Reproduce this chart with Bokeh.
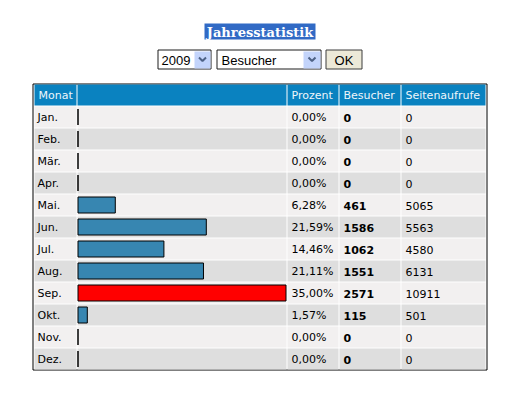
from bokeh.plotting import figure
from bokeh.models import Range1d, ColumnDataSource
from bokeh.embed import file_html
from bokeh.resources import INLINE
from bokeh.core.properties import value

# ---------------- data ----------------
months = ["Jan.", "Feb.", "Mär.", "Apr.", "Mai.", "Jun.", "Jul.", "Aug.", "Sep.", "Okt.", "Nov.", "Dez."]
visitors = [0, 0, 0, 0, 461, 1586, 1062, 1551, 2571, 115, 0, 0]
pageviews = [0, 0, 0, 0, 5065, 5563, 4580, 6131, 10911, 501, 0, 0]
headers = ["Monat", "", "Prozent", "Besucher", "Seitenaufrufe"]
title_text = "Jahresstatistik"
year_label = "2009"
metric_label = "Besucher"
button_label = "OK"

total = sum(visitors)
percents = [("%.2f" % (v / total * 100)).replace(".", ",") + "%" for v in visitors]
vmax = max(visitors)

# ---------------- layout (pixels) ----------------
W, H = 502, 379
X0 = 0  # data x of the figure's left edge
Y0 = 0  # data y of the figure's top edge
col_edges = [(34, 76), (77, 286), (287, 338), (339, 400), (401, 485)]
head_top, head_bot = 84, 105
row0, pitch, rowh = 106, 22, 21
bar_x0, bar_x1 = 77.5, 285.5

FONT = value("DejaVu Sans")

p = figure(width=W, height=H, x_range=Range1d(X0, X0 + W), y_range=Range1d(Y0 + H, Y0),
           output_backend="svg", toolbar_location=None, min_border=0,
           x_axis_location=None, y_axis_location=None,
           outline_line_color=None, background_fill_color="white",
           border_fill_color="white")
p.grid.visible = False

k = vmax / (bar_x1 - bar_x0)
p.extra_x_ranges["bars"] = Range1d(-(bar_x0 - X0) * k, vmax + (X0 + W - bar_x1) * k)

# ---------------- title ----------------
p.quad(left=[204], right=[315], top=[23], bottom=[39], fill_color="#316AC5", line_color=None)
p.text(x=[259.5], y=[31.5], text=[title_text], text_color="white", text_align="center",
       text_baseline="middle", text_font=value("DejaVu Serif"), text_font_style="bold",
       text_font_size="13px")

# ---------------- selects ----------------
sel_l = [157.5, 216.5]
sel_r = [210.5, 320.5]
p.quad(left=sel_l, right=sel_r, top=[49.5, 49.5], bottom=[68.5, 68.5],
       fill_color="white", line_color="#1c1c1c", line_width=1)
arr_l = [194, 303]
arr_r = [210, 320]
p.quad(left=arr_l, right=arr_r, top=[51, 51], bottom=[68, 68],
       fill_color="#C3D4FB", line_color=None)
xs, ys = [], []
for a, b in zip(arr_l, arr_r):
    cx = (a + b) / 2
    xs.append([cx - 3.5, cx, cx + 3.5])
    ys.append([57, 60.5, 57])
p.multi_line(xs=xs, ys=ys, line_color="#4D6185", line_width=2)
p.text(x=[161, 221], y=[59.5, 59.5], text=[year_label, metric_label], text_color="black",
       text_baseline="middle", text_font=value("Liberation Sans"), text_font_size="13px")
p.quad(left=[325.5], right=[361.5], top=[49.5], bottom=[68.5], fill_color="#ECE9D8",
       line_color="#3c3c3c", line_width=1)
p.text(x=[343.5], y=[59.5], text=[button_label], text_color="black", text_align="center",
       text_baseline="middle", text_font=value("Liberation Sans"), text_font_size="13px")

# ---------------- table frame ----------------
p.quad(left=[32.5], right=[486.5], top=[83.5], bottom=[369.5], fill_color="white",
       line_color="black", line_width=1)

# header cells
p.quad(left=[c[0] for c in col_edges], right=[c[1] for c in col_edges],
       top=[head_top] * 5, bottom=[head_bot] * 5, fill_color="#0A82C0", line_color=None)
hx = [c[0] + 4 for c in col_edges]
hcx, htx = [], []
for x, t in zip(hx, headers):
    if t:
        hcx.append(x)
        htx.append(t)
p.text(x=hcx, y=[(head_top + head_bot) / 2 + 0.5] * len(hcx), text=htx, text_color="#EEF6FB",
       text_baseline="middle", text_font=FONT, text_font_size="11px")

# body cells
L, R, T, B, C = [], [], [], [], []
for i in range(len(months)):
    top = row0 + pitch * i
    for (a, b) in col_edges:
        L.append(a); R.append(b); T.append(top); B.append(top + rowh)
        C.append("#F2F0F0" if i % 2 == 0 else "#DEDEDE")
p.quad(left=L, right=R, top=T, bottom=B, fill_color=C, line_color=None)

centers = [row0 + pitch * i + rowh / 2 for i in range(len(months))]

# bars
bar_src = ColumnDataSource(dict(
    left=[0] * len(visitors), right=visitors,
    top=[c - 8 for c in centers], bottom=[c + 8 for c in centers],
    color=["#FF0000" if v == vmax else "#3786B1" for v in visitors]))
p.quad(left="left", right="right", top="top", bottom="bottom", fill_color="color",
       line_color="black", line_width=1, source=bar_src, x_range_name="bars")

ty = [c + 0.5 for c in centers]
p.text(x=[col_edges[0][0] + 3] * 12, y=ty, text=months, text_color="black",
       text_baseline="middle", text_font=FONT, text_font_size="11px")
p.text(x=[col_edges[2][0] + 4] * 12, y=ty, text=percents, text_color="black",
       text_baseline="middle", text_font=FONT, text_font_size="11px")
p.text(x=[col_edges[3][0] + 4] * 12, y=ty, text=[str(v) for v in visitors], text_color="black",
       text_baseline="middle", text_font=FONT, text_font_size="11px", text_font_style="bold")
p.text(x=[col_edges[4][0] + 4] * 12, y=ty, text=[str(v) for v in pageviews], text_color="black",
       text_baseline="middle", text_font=FONT, text_font_size="11px")

open("out.html", "w").write(file_html(p, INLINE))
